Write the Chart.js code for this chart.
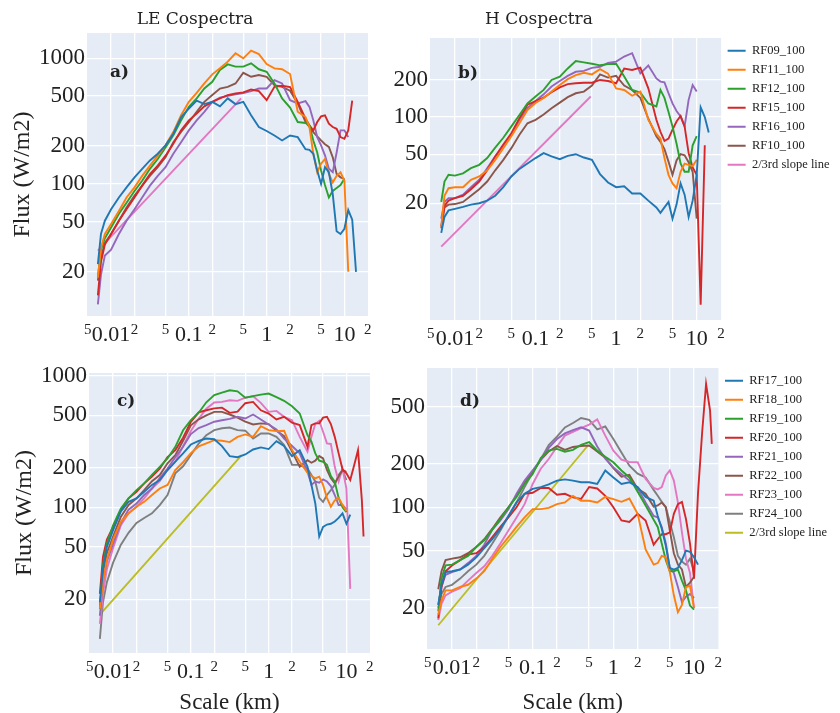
<!DOCTYPE html>
<html lang="en">
<head>
<meta charset="UTF-8">
<title>LE and H Cospectra</title>
<script src="https://cdn.jsdelivr.net/npm/chart.js"></script>
<style>
  body { margin: 0; background: #ffffff; }
  .wrap { position: relative; width: 840px; height: 713px; }
  canvas { position: absolute; }
  #chartA { left: 0; top: 0; }
  #chartB { left: 390px; top: 0; }
  #chartC { left: 0; top: 350px; }
  #chartD { left: 390px; top: 350px; }
</style>
</head>
<body>
<div class="wrap">
  <canvas id="chartA" width="390" height="350"></canvas>
  <canvas id="chartB" width="450" height="350"></canvas>
  <canvas id="chartC" width="390" height="363"></canvas>
  <canvas id="chartD" width="450" height="363"></canvas>
</div>
<script>
// scale (km) shared by every curve
const scaleKm = [0.00676, 0.00741, 0.00832, 0.01, 0.0126, 0.0158, 0.02, 0.0251, 0.0316, 0.0398, 0.0501,
  0.0631, 0.0794, 0.1, 0.126, 0.158, 0.2, 0.251, 0.316, 0.398, 0.501, 0.631, 0.794, 1, 1.26, 1.58, 2,
  2.51, 3.16, 3.55, 3.98, 4.47, 5.01, 5.62, 6.31, 7.08, 7.94, 8.91, 10, 11.2, 12.6, 14.1, 15.8, 16.6];

const xTicks = [0.005, 0.01, 0.02, 0.05, 0.1, 0.2, 0.5, 1, 2, 5, 10, 20];

// top row flights
const flightsTop = ['RF09_100', 'RF11_100', 'RF12_100', 'RF15_100', 'RF16_100', 'RF10_100'];
// bottom row flights
const flightsBottom = ['RF17_100', 'RF18_100', 'RF19_100', 'RF20_100', 'RF21_100', 'RF22_100', 'RF23_100', 'RF24_100'];

// a) LE cospectra (W/m2)
const leRF09 = [23, 40, 51, 63, 78, 94, 113, 132, 154, 174, 203, 251, 340, 398, 460, 432, 450, 415, 480, 432, 450, 352, 284, 264, 243, 222, 243, 236, 189, 187, 174, 128, 100, 136, 124, 83, 42, 40, 44, 62, 52, 20, null, null];
const leRF11 = [18, 31, 40, 48, 61, 78, 94, 116, 140, 168, 203, 259, 352, 450, 530, 631, 745, 832, 940, 1096, 1000, 1150, 1080, 900, 832, 818, 750, 376, 341, 284, 174, 124, 145, 158, 120, 103, 116, 124, 106, 20, null, null, null, null];
const leRF12 = [18, 30, 37, 45, 58, 71, 88, 106, 132, 158, 195, 244, 321, 411, 480, 575, 650, 807, 895, 858, 858, 912, 818, 782, 631, 480, 406, 311, 306, 293, 222, 178, 128, 98, 78, 88, 93, 98, 110, null, null, null, null, null];
const leRF15 = [13, 24, 33, 40, 51, 63, 78, 97, 120, 140, 168, 209, 267, 321, 363, 415, 450, 480, 510, 525, 536, 565, 548, 464, 593, 605, 590, 450, 331, 293, 267, 311, 345, 352, 302, 284, 275, 236, 229, 267, 460, null, null, null];
const leRF16 = [11, 19, 27, 30, 40, 51, 63, 78, 97, 116, 136, 174, 215, 267, 321, 375, 450, 486, 502, 517, 530, 548, 575, 575, 671, 631, 464, 437, 456, 411, 321, 236, 203, 169, 132, 124, 178, 267, 267, 236, null, null, null, null];
const leRF10 = [17, 26, 34, 40, 51, 65, 81, 97, 116, 136, 163, 215, 260, 310, 375, 450, 510, 575, 593, 631, 767, 713, 736, 713, 612, 593, 553, 437, 311, 284, 259, 239, 222, 207, 197, 163, 120, 113, 110, null, null, null, null, null];
const leSlopeX = [0.00676, 0.47];
const leSlopeY = [29.5, 480];

// b) H cospectra (W/m2)
const hRF09 = [11.5, 15.5, 17.5, 18, 18.7, 19.5, 20, 21, 23, 27, 33, 38, 42, 46.5, 51, 48, 45.5, 48.5, 50, 47, 45, 34.5, 29.5, 27, 27.5, 24, 24, 21, 18.5, 16.7, 18.5, 20.5, 15, 19.5, 29, 23.5, 15.5, 21, 34, 120, 100, 75, null, null];
const hRF11 = [13, 23, 26.5, 27, 27, 31, 33, 37, 45, 56, 70, 89, 114, 130, 143, 161, 182, 203, 219, 229, 222, 245, 225, 171, 166, 149, 161, 95, 73, 67, 46.5, 34, 29, 26.5, 36, 42, 41, 40, 45, null, null, null, null, null];
const hRF12 = [20.5, 30, 34, 33.5, 35, 38.5, 41, 46.5, 56.5, 68, 84, 104, 129, 147, 166, 200, 213, 248, 285, 278, 271, 263, 269, 271, 213, 166, 158, 129, 122, 166, 143, 110, 84, 61, 42, 36, 36, 59, 70, null, null, null, null, null];
const hRF15 = [13, 19, 21, 22, 23, 26, 30, 37, 48, 60, 74, 98, 126, 135, 144, 159, 174, 185, 188, 190, 190, 200, 196, 188, 248, 241, 252, 171, 95, 76, 64, 67, 79, 92, 102, 84, 51, 39, 34, 3.0, 59, null, null, null];
const hRF16 = [15, 20.5, 22, 22, 23.5, 27, 31, 38.5, 48, 58, 72, 95, 118, 135, 153, 177, 196, 216, 233, 237, 251, 256, 275, 282, 310, 330, 226, 262, 206, 194, 191, 156, 129, 112, 101, 84, 138, 182, 161, null, null, null, null, null];
const hRF10 = [12.5, 18.5, 19.5, 19.7, 20.5, 23, 26, 30, 37, 45, 56, 72, 89, 95, 105, 118, 131, 145, 156, 161, 180, 222, 209, 216, 180, 166, 143, 97, 70, 63, 55, 43.5, 34, 44.5, 50, 49, 43, 36, 15, null, null, null, null, null];
const hSlopeX = [0.00676, 0.484];
const hSlopeY = [8.9, 147];

// c) LE cospectra, second group
const cRF17 = [19, 34, 50, 67, 93, 110, 117, 131, 148, 161, 192, 222, 257, 300, 320, 333, 329, 292, 245, 240, 252, 275, 285, 277, 318, 292, 245, 272, 203, 148, 107, 60, 71, 74, 75, 78, 83, 90, 75, 88, null, null, null, null];
const cRF18 = [17, 27, 40, 57, 78, 90, 101, 110, 124, 139, 148, 192, 220, 258, 290, 306, 324, 320, 313, 343, 358, 343, 414, 386, 379, 382, 272, 222, 183, 173, 166, 171, 148, 118, 101, 113, 118, 104, 94, null, null, null, null, null];
const cRF19 = [17, 36, 53, 73, 98, 117, 135, 152, 176, 203, 235, 288, 385, 459, 523, 628, 713, 744, 775, 760, 680, 700, 718, 731, 686, 644, 586, 516, 353, 315, 257, 226, 222, 210, 173, 157, 118, 100, 92, null, null, null, null, null];
const cRF20 = [22, 42, 57, 71, 96, 117, 131, 152, 171, 197, 241, 272, 338, 446, 526, 546, 565, 572, 522, 533, 618, 632, 546, 516, 465, 487, 439, 421, 288, 421, 434, 434, 480, 487, 429, 343, 257, 194, 181, 161, 210, 272, 113, 60];
const cRF21 = [15, 27, 39, 53, 76, 96, 107, 124, 139, 167, 197, 240, 288, 360, 400, 421, 447, 459, 470, 487, 473, 507, 465, 426, 390, 333, 292, 257, 186, 148, 157, 154, 163, 157, 145, 124, 104, 104, 96, null, null, null, null, null];
const cRF22 = [17, 32, 45, 60, 85, 104, 117, 135, 158, 176, 216, 249, 320, 420, 466, 500, 531, 531, 507, 480, 447, 426, 434, 429, 382, 347, 265, 203, 228, 218, 226, 245, 235, 192, 166, 152, 171, 192, 186, null, null, null, null, null];
const cRF23 = [13, 22, 34, 49, 73, 90, 101, 117, 139, 158, 192, 222, 292, 380, 470, 562, 625, 632, 651, 644, 682, 698, 622, 531, 540, 487, 459, 343, 265, 343, 429, 454, 375, 306, 303, 203, 157, 197, 139, 24, null, null, null, null];
const cRF24 = [10, 19, 27, 38, 52, 64, 76, 83, 90, 104, 124, 181, 205, 250, 305, 353, 386, 399, 404, 386, 382, 333, 364, 364, 343, 297, 210, 210, 197, 176, 157, 118, 110, 124, 135, 148, 176, 192, 161, null, null, null, null, null];
const cSlopeX = [0.00676, 0.45];
const cSlopeY = [15.3, 249];

// d) H cospectra, second group
const dRF17 = [21, 29, 35.5, 36, 37, 40, 45, 52, 60, 71, 87, 108, 124, 134, 138, 144, 153, 156, 153, 149, 149, 145, 180, 161, 145, 149, 138, 118, 111, 87, 71, 54, 38, 37, 38, 43, 50, 49, 45, 40, null, null, null, null];
const dRF18 = [18, 22.5, 26.5, 26.5, 28, 29, 32, 36, 44, 53, 62, 73, 85, 97, 97, 99, 105, 108, 120, 111, 111, 108, 118, 114, 109, 115, 90, 51, 40, 41, 46, 45, 35.5, 24.5, 18.7, 21, 28, 28.5, 20, null, null, null, null, null];
const dRF19 = [19, 32, 39.5, 40, 43, 46, 53, 59, 70, 83, 100, 118, 145, 170, 219, 247, 254, 243, 250, 271, 283, 247, 224, 205, 180, 161, 128, 103, 82, 73, 56, 43, 36, 36, 37, 31, 26.5, 20.8, 19.5, null, null, null, null, null];
const dRF20 = [17, 28, 36, 39.5, 43, 47, 48, 53, 62, 73, 85, 100, 124, 126, 136, 136, 122, 124, 117, 114, 138, 135, 120, 100, 81, 79, 90, 81, 55, 60, 65, 65, 67, 90, 105, 109, 83, 56, 32, 125, 330, 716, 468, 275];
const dRF21 = [21, 28, 34, 35.5, 37, 41, 46, 55, 70, 81, 97, 124, 153, 180, 213, 258, 297, 325, 343, 358, 340, 264, 217, 189, 170, 153, 136, 108, 87, 85, 73, 56, 38, 35, 28, 22, 24, 25, 23.5, null, null, null, null, null];
const dRF22 = [27, 36, 43, 44, 45, 48, 53, 60, 71, 85, 100, 120, 149, 175, 213, 244, 266, 250, 262, 266, 268, 244, 220, 187, 163, 168, 134, 124, 101, 103, 108, 100, 69, 48, 40, 37, 28, 30, 33, null, null, null, null, null];
const dRF23 = [16.5, 21.4, 24.5, 26, 27.5, 31, 35, 39, 46, 56, 69, 85, 105, 145, 185, 216, 263, 314, 333, 354, 374, 407, 314, 247, 214, 206, 205, 157, 136, 133, 138, 166, 180, 153, 108, 67, 44, 35, 20, null, null, null, null, null];
const dRF24 = [20, 25, 28, 29, 32, 36, 40, 46, 56, 69, 87, 108, 138, 175, 215, 270, 309, 358, 384, 416, 404, 347, 363, 297, 240, 194, 171, 161, 132, 120, 109, 100, 79, 62, 46, 42, 40, 44, 36, null, null, null, null, null];
const dSlopeX = [0.00676, 0.484];
const dSlopeY = [15.2, 268];

const yTicksA = [20, 50, 100, 200, 500, 1000];
const yTicksB = [20, 50, 100, 200];
const yTicksC = [20, 50, 100, 200, 500, 1000];
const yTicksD = [20, 50, 100, 200, 500];

const palette = ['#1f77b4', '#ff7f0e', '#2ca02c', '#d62728', '#9467bd', '#8c564b', '#e377c2', '#7f7f7f', '#bcbd22'];
const serif = "'Liberation Serif', 'Times New Roman', serif";

function isDecade(v) {
  const l = Math.log10(v);
  return Math.abs(l - Math.round(l)) < 1e-6;
}

// plot background like the original
const plotBg = {
  id: 'plotBg',
  beforeDraw(chart) {
    const a = chart.chartArea;
    const ctx = chart.ctx;
    ctx.save();
    ctx.fillStyle = '#e5ecf6';
    ctx.fillRect(a.left, a.top, a.right - a.left, a.bottom - a.top);
    ctx.restore();
  }
};

// column title and panel letter
const panelText = {
  id: 'panelText',
  afterDraw(chart, args, opts) {
    const ctx = chart.ctx;
    ctx.save();
    ctx.fillStyle = '#222';
    ctx.textBaseline = 'middle';
    if (opts.title) {
      ctx.font = "17px 'DejaVu Serif', serif";
      ctx.textAlign = 'center';
      ctx.fillText(opts.title, opts.titleX, opts.titleY);
    }
    ctx.font = "bold 17px 'DejaVu Serif', serif";
    ctx.textAlign = 'left';
    ctx.fillText(opts.letter, opts.letterX, opts.letterY);
    ctx.restore();
  }
};

function makePanel(id, p) {
  const datasets = p.names.map((name, i) => ({
    label: name,
    data: p.series[i],
    borderColor: palette[i],
    backgroundColor: palette[i],
    borderWidth: 1.9,
    pointRadius: 0,
    pointStyle: 'line',
    tension: 0
  }));
  datasets.push({
    label: '2/3rd slope line',
    data: p.slopeX.map((x, i) => ({x: x, y: p.slopeY[i]})),
    borderColor: p.slopeColor,
    backgroundColor: p.slopeColor,
    borderWidth: 1.9,
    pointRadius: 0,
    pointStyle: 'line'
  });

  return new Chart(document.getElementById(id), {
    type: 'line',
    data: { labels: scaleKm, datasets: datasets },
    plugins: [plotBg, panelText],
    options: {
      responsive: false,
      animation: false,
      layout: { padding: p.padding },
      scales: {
        x: {
          type: 'logarithmic',
          min: 0.0049,
          max: 20.1,
          afterBuildTicks: s => { s.ticks = xTicks.map(v => ({ value: v })); },
          afterFit: s => { s.height = p.xHeight; s.paddingLeft = 0; s.paddingRight = 0; },
          border: { display: false },
          grid: {
            drawTicks: false,
            lineWidth: 1.3,
            color: c => (c.tick && (c.tick.value < 0.008 || c.tick.value > 15)) ? 'rgba(0,0,0,0)' : '#ffffff'
          },
          ticks: {
            autoSkip: false,
            maxRotation: 0,
            minRotation: 0,
            padding: 4,
            color: '#222',
            font: c => (c.tick && !isDecade(c.tick.value))
              ? { family: serif, size: 15, lineHeight: 1.33 }
              : { family: serif, size: 22, lineHeight: 1.41 },
            callback: v => isDecade(v) ? String(v) : String(Math.round(v / Math.pow(10, Math.floor(Math.log10(v)))))
          },
          title: {
            display: p.xTitle,
            text: 'Scale (km)',
            color: '#222',
            font: { family: serif, size: 23, lineHeight: 0.9 },
            padding: { top: 0, bottom: 0 }
          }
        },
        y: {
          type: 'logarithmic',
          min: p.yMin,
          max: p.yMax,
          afterBuildTicks: s => { s.ticks = p.yTicks.map(v => ({ value: v })); },
          afterFit: s => { s.width = p.yWidth; s.paddingTop = 0; s.paddingBottom = 0; },
          border: { display: false },
          grid: { drawTicks: false, lineWidth: 1.3, color: '#ffffff' },
          ticks: {
            padding: 2,
            color: '#222',
            font: { family: serif, size: 23 },
            callback: v => String(v)
          },
          title: {
            display: p.yTitle,
            text: 'Flux (W/m2)',
            color: '#222',
            font: { family: serif, size: 24, lineHeight: 1.2 },
            padding: { top: p.yTitlePad, bottom: 0 }
          }
        }
      },
      plugins: {
        legend: {
          display: p.legend,
          position: 'right',
          align: 'start',
          labels: {
            usePointStyle: true,
            pointStyleWidth: 18,
            padding: 6.5,
            color: '#222',
            font: { family: serif, size: 12.5 }
          }
        },
        tooltip: { enabled: false },
        panelText: p.text
      }
    }
  });
}

makePanel('chartA', {
  names: flightsTop,
  series: [leRF09, leRF11, leRF12, leRF15, leRF16, leRF10],
  slopeX: leSlopeX, slopeY: leSlopeY, slopeColor: palette[6],
  yMin: 8.9, yMax: 1590, yTicks: yTicksA,
  padding: { left: 0, right: 22, top: 33, bottom: 0 },
  yWidth: 87, xHeight: 34, yTitle: true, yTitlePad: 8, xTitle: false, legend: false,
  text: { title: 'LE Cospectra', titleX: 195, titleY: 20, letter: 'a)', letterX: 110, letterY: 73 }
});

makePanel('chartB', {
  names: flightsTop,
  series: [hRF09, hRF11, hRF12, hRF15, hRF16, hRF10],
  slopeX: hSlopeX, slopeY: hSlopeY, slopeColor: palette[6],
  yMin: 2.26, yMax: 438, yTicks: yTicksB,
  padding: { left: 0, right: 8.5, top: 38, bottom: 0 },
  yWidth: 40, xHeight: 30, yTitle: false, yTitlePad: 0, xTitle: false, legend: true,
  text: { title: 'H Cospectra', titleX: 149, titleY: 20, letter: 'b)', letterX: 68, letterY: 74 }
});

makePanel('chartC', {
  names: flightsBottom,
  series: [cRF17, cRF18, cRF19, cRF20, cRF21, cRF22, cRF23, cRF24],
  slopeX: cSlopeX, slopeY: cSlopeY, slopeColor: palette[8],
  yMin: 7.82, yMax: 1048, yTicks: yTicksC,
  padding: { left: 0, right: 20, top: 23, bottom: 0 },
  yWidth: 89, xHeight: 60, yTitle: true, yTitlePad: 10.5, xTitle: true, legend: false,
  text: { title: '', letter: 'c)', letterX: 117, letterY: 52 }
});

makePanel('chartD', {
  names: flightsBottom,
  series: [dRF17, dRF18, dRF19, dRF20, dRF21, dRF22, dRF23, dRF24],
  slopeX: dSlopeX, slopeY: dSlopeY, slopeColor: palette[8],
  yMin: 10.4, yMax: 924, yTicks: yTicksD,
  padding: { left: 0, right: 12, top: 18, bottom: 0 },
  yWidth: 37, xHeight: 64, yTitle: false, yTitlePad: 0, xTitle: true, legend: true,
  text: { title: '', letter: 'd)', letterX: 70, letterY: 52 }
});
</script>
</body>
</html>
